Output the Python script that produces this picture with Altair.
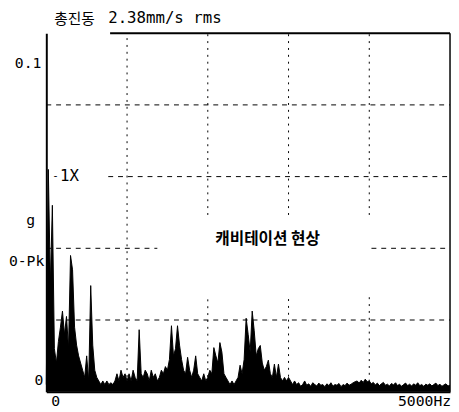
import altair as alt
import pandas as pd

# ---- data -------------------------------------------------------------
bin_step_hz = 25
freq_hz = list(range(0, 5001, bin_step_hz))

amp_g = [
    0.002, 0.062, 0.030, 0.052, 0.012, 0.008, 0.014, 0.018, 0.0225, 0.016,
    0.021, 0.012, 0.038, 0.034, 0.018, 0.013, 0.010, 0.008, 0.006, 0.004,
    0.010, 0.003, 0.0296, 0.013, 0.006, 0.004, 0.003, 0.002, 0.003, 0.002,
    0.003, 0.002, 0.0025, 0.002, 0.003, 0.005, 0.003, 0.006, 0.004, 0.005,
    0.003, 0.005, 0.003, 0.006, 0.004, 0.003, 0.0173, 0.005, 0.004, 0.006,
    0.005, 0.003, 0.006, 0.004, 0.005, 0.003, 0.004, 0.006, 0.005, 0.007,
    0.006, 0.009, 0.0184, 0.010, 0.012, 0.0184, 0.013, 0.009, 0.006, 0.005,
    0.0096, 0.006, 0.004, 0.006, 0.010, 0.005, 0.004, 0.003, 0.005, 0.003,
    0.004, 0.006, 0.005, 0.0123, 0.010, 0.008, 0.0137, 0.011, 0.005, 0.004,
    0.003, 0.002, 0.003, 0.002, 0.003, 0.004, 0.0074, 0.005, 0.009, 0.0205,
    0.016, 0.011, 0.0225, 0.017, 0.010, 0.012, 0.0129, 0.008, 0.006, 0.007,
    0.0088, 0.005, 0.004, 0.0077, 0.004, 0.0077, 0.004, 0.003, 0.004, 0.003,
    0.004, 0.003, 0.002, 0.003, 0.002, 0.0025, 0.0015, 0.002, 0.003, 0.0018,
    0.0022, 0.0015, 0.0025, 0.002, 0.0016, 0.0024, 0.0018, 0.002, 0.0014, 0.0022,
    0.0017, 0.0025, 0.0015, 0.002, 0.0018, 0.0023, 0.0014, 0.002, 0.0017, 0.0024,
    0.0018, 0.0021, 0.0025, 0.0028, 0.003, 0.0024, 0.0032, 0.0026, 0.0035, 0.0028,
    0.003, 0.0022, 0.0026, 0.0019, 0.0024, 0.0017, 0.0022, 0.0026, 0.0018, 0.0021,
    0.0016, 0.0023, 0.0019, 0.0025, 0.0017, 0.0021, 0.0015, 0.002, 0.0024, 0.0017,
    0.0021, 0.0016, 0.0022, 0.0018, 0.0025, 0.0017, 0.002, 0.0015, 0.0021, 0.0018,
    0.0022, 0.0016, 0.002, 0.0024, 0.0017, 0.0021, 0.0015, 0.0019, 0.0022, 0.0016,
    0.0018,
]
assert len(amp_g) == len(freq_hz)

x_domain = [0, 5000]
y_domain = [0, 0.1]

# dashed grid segments as printed (some are broken around the note)
hgrid_g = [0.08, 0.06, 0.04, 0.04, 0.02]
hgrid_from_hz = [0, 767, 0, 4027, 0]
hgrid_to_hz = [5000, 5000, 1375, 5000, 5000]

vgrid_hz = [1000, 2000, 2000, 3000, 3000, 4000, 4000]
vgrid_from_g = [0.0022, 0.0493, 0.0022, 0.0493, 0.0042, 0.0493, 0.0028]
vgrid_to_g = [0.1, 0.1, 0.0268, 0.1, 0.0268, 0.1, 0.0268]

title_ko = "총진동"
title_val = "2.38mm/s rms"
note_ko = "캐비테이션 현상"
label_1x = "1X"
y_top_label = "0.1"
y_unit = "g"
y_kind = "0-Pk"
y_zero = "0"
x_zero = "0"
x_max_label = "5000Hz"
underline_start_hz = 790

df = pd.DataFrame({"hz": freq_hz, "amp": amp_g})

MONO = "DejaVu Sans Mono"
KO = "Noto Sans CJK KR"

xs = alt.Scale(domain=x_domain, nice=False, zero=False)
ys = alt.Scale(domain=y_domain, nice=False)

axis_x = alt.Axis(grid=False, ticks=False, labels=False, title=None,
                  domainColor="black", domainWidth=2)
axis_y = alt.Axis(grid=False, ticks=False, labels=False, title=None,
                  domainColor="black", domainWidth=2)

hgrid = alt.Chart(pd.DataFrame({
    "g": hgrid_g, "a": hgrid_from_hz, "b": hgrid_to_hz,
})).mark_rule(color="black", strokeWidth=1, strokeDash=[5, 5]).encode(
    x=alt.X("a:Q", scale=xs, axis=axis_x), x2="b:Q",
    y=alt.Y("g:Q", scale=ys, axis=axis_y),
)
vgrid = alt.Chart(pd.DataFrame({
    "h": vgrid_hz, "a": vgrid_from_g, "b": vgrid_to_g,
})).mark_rule(color="black", strokeWidth=1, strokeDash=[2, 5]).encode(
    x=alt.X("h:Q", scale=xs), y=alt.Y("a:Q", scale=ys), y2="b:Q",
)

base = alt.Chart(df)
area = base.mark_area(color="black", opacity=1, interpolate="linear").encode(
    x=alt.X("hz:Q", scale=xs), y=alt.Y("amp:Q", scale=ys),
)
line = base.mark_line(color="black", strokeWidth=1).encode(
    x=alt.X("hz:Q", scale=xs), y=alt.Y("amp:Q", scale=ys)
)

border_df = pd.DataFrame({
    "x1": [underline_start_hz, x_domain[1]],
    "x2": [x_domain[1], x_domain[1]],
    "y1": [y_domain[1], y_domain[0]],
    "y2": [y_domain[1], y_domain[1]],
    "w": [2, 1.5],
})
borders = alt.Chart(border_df).mark_rule(color="black").encode(
    x=alt.X("x1:Q", scale=xs), x2="x2:Q",
    y=alt.Y("y1:Q", scale=ys), y2="y2:Q",
    strokeWidth=alt.StrokeWidth("w:Q", scale=None, legend=None),
)


def txt(text, x, y, size=15, font=MONO, align="left", baseline="middle",
        weight="normal"):
    return alt.Chart(pd.DataFrame({"t": [text]})).mark_text(
        font=font, fontSize=size, align=align, baseline=baseline,
        fontWeight=weight, color="black",
    ).encode(text="t:N", x=alt.value(x), y=alt.value(y))


texts = [
    txt(title_ko, 8, -9, size=15, font=KO, baseline="alphabetic"),
    txt(title_val, 63, -10, size=16, baseline="alphabetic"),
    txt(y_top_label, -5, 30, align="right"),
    txt(y_unit, -16, 190, align="center"),
    txt(y_kind, -2, 232, align="right"),
    txt(y_zero, -3, 353, align="right"),
    txt(x_zero, 5, 368, baseline="top"),
    txt(x_max_label, 358, 368, baseline="top"),
    txt("-", 6, 145, size=11),
    txt(label_1x, 14, 145, size=16),
    txt(note_ko, 172, 210, size=16, font=KO, weight="bold"),
]

chart = alt.layer(hgrid, vgrid, area, line, borders, *texts).properties(
    width=411, height=365,
    autosize=alt.AutoSizeParams(type="none"),
    padding={"left": 39, "top": 22, "right": 1, "bottom": 17},
    background="white",
).configure_view(stroke=None)

chart.save("out.html", embed_options={"renderer": "svg", "actions": False})
